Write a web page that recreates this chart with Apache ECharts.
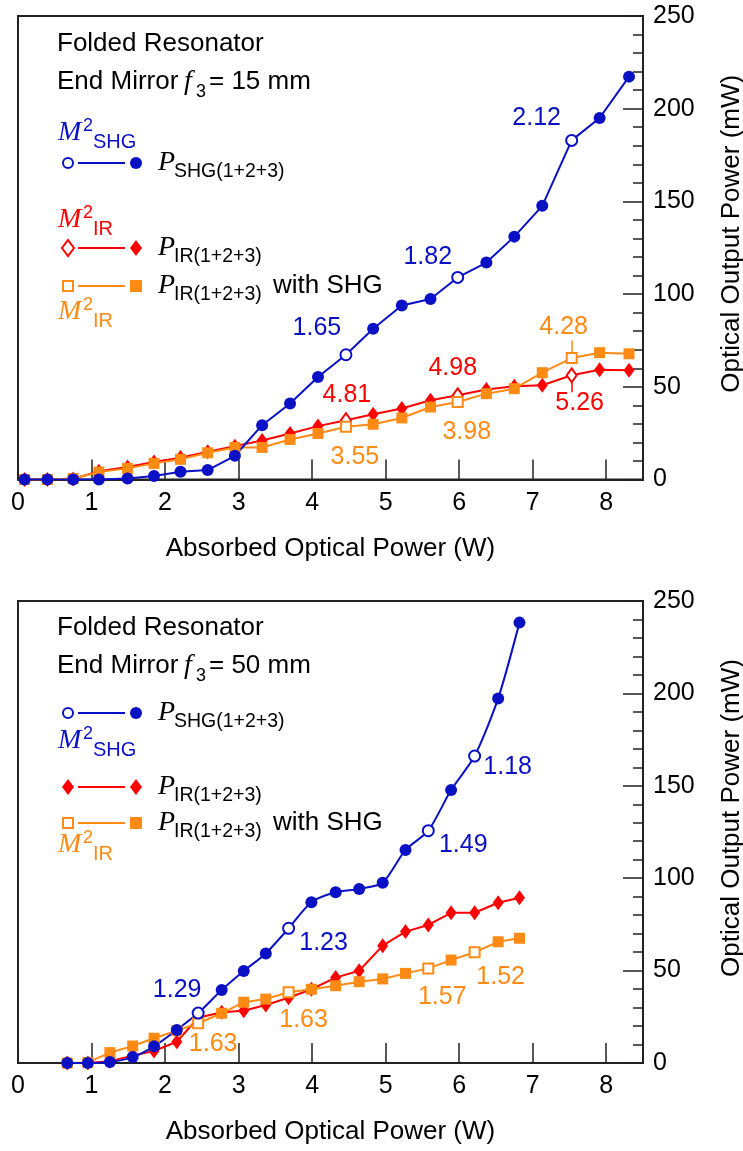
<!DOCTYPE html>
<html>
<head>
<meta charset="utf-8">
<script src="https://cdn.jsdelivr.net/npm/echarts@6/dist/echarts.min.js"></script>
<style>
html, body {margin: 0; padding: 0; background: #fff;}
#chart {width: 743px; height: 1151px;}
</style>
</head>
<body>
<div id="chart"></div>
<script>
// 上图: End Mirror f3 = 15 mm
var topPower = [0.09, 0.40, 0.75, 1.10, 1.49, 1.85, 2.21, 2.58, 2.95, 3.32, 3.70, 4.08, 4.46, 4.83, 5.22, 5.61, 5.98, 6.37, 6.75, 7.13, 7.53, 7.91, 8.31];
var topShg = [0, 0, 0, 0, 0.6, 1.9, 4.2, 5.1, 12.8, 29.3, 41, 55.3, 67.3, 81.3, 93.8, 97.4, 109, 117, 131, 147.6, 182.9, 195, 217.3];
var topIr = [0, 0, 0.3, 4.5, 6.8, 9.5, 11.8, 15, 18, 21, 24.8, 28.8, 32, 35.2, 38.3, 42.7, 45.4, 48.5, 50.3, 50.8, 56.2, 59.2, 58.9];
var topIrShg = [0, 0, 0.5, 4, 6, 8.7, 10.9, 14.4, 17.3, 17.3, 21.6, 24.8, 28.4, 29.8, 33.2, 39.1, 41.8, 46.3, 49, 57.6, 65.5, 68.4, 67.8];
var topOpen = [12, 16, 20]; // M² 测量点
var topM2Shg = ['1.65', '1.82', '2.12'];
var topM2Ir = ['4.81', '4.98', '5.26'];
var topM2IrShg = ['3.55', '3.98', '4.28'];
var topLeaderIr = [7.53, 52.5, 47];
var topLeaderIrShg = [7.53, 75, 68.5];

// 下图: End Mirror f3 = 50 mm
var botPower = [0.67, 0.95, 1.25, 1.56, 1.85, 2.16, 2.45, 2.77, 3.07, 3.37, 3.68, 3.99, 4.32, 4.64, 4.96, 5.27, 5.58, 5.89, 6.21, 6.53, 6.82];
var botShg = [0, 0, 0.5, 3.2, 9, 17.9, 27, 39.5, 49.8, 59.3, 72.9, 87, 92.4, 94.2, 97.6, 115.3, 125.7, 147.7, 166.1, 197.3, 238.3];
var botIr = [0, 0, 1, 4, 6.5, 11.5, 24.5, 27.5, 28.3, 31.4, 35.3, 39.9, 46.2, 49.9, 63.5, 71.1, 74.7, 81.3, 81.3, 86.7, 89.4];
var botIrShg = [0, 0.3, 5.6, 9.2, 13.4, 17.5, 21.5, 26.9, 32.9, 34.6, 38.3, 39.9, 41.8, 44, 45.5, 48.5, 51.2, 55.7, 59.9, 65.6, 67.5];
var botOpen = [6, 10, 16, 18];
var botM2Shg = ['1.29', '1.23', '1.49', '1.18'];
var botM2IrShg = ['1.63', '1.63', '1.57', '1.52'];

var xTicks = [0, 1, 2, 3, 4, 5, 6, 7, 8];

// 标注文字相对数据点的偏移(px)
var labelOffsets = {
    topShg: [[-29, -27], [-30, -20], [-35, -22]],
    topIr: [[1, -25], [-5, -27], [8, 28]],
    topIrShg: [[9, 30], [9, 30], [-8, -31]],
    botShg: [[-21, -23], [35, 15], [35, 14], [33, 11]],
    botIrShg: [[15, 21], [15, 28], [14, 29], [26, 25]]
};

var BLUE = '#0a10c4', RED = '#ff0000', ORANGE = '#ff8a14';
var SANS = '"Liberation Sans", Arial, Helvetica, sans-serif';
var SERIF = '"Liberation Serif", "Times New Roman", serif';

function buildData(xs, ys, openIdx, labels, offsets, color, size) {
    return xs.map(function (x, i) {
        var item = {value: [x, ys[i]]};
        var k = openIdx ? openIdx.indexOf(i) : -1;
        if (k >= 0) {
            item.itemStyle = {color: '#fff', borderColor: color, borderWidth: 2};
            item.symbolSize = size;
            if (labels) {
                item.label = {
                    show: true, position: 'inside', offset: offsets[k], formatter: labels[k],
                    color: color, fontSize: 25, fontFamily: SANS
                };
            }
        }
        return item;
    });
}

function makeSeries(idx, xs, ys, openIdx, labels, offsets, color, symbol, size, openSize, leader, smooth) {
    var s = {
        type: 'line', xAxisIndex: idx, yAxisIndex: idx,
        data: buildData(xs, ys, openIdx, labels, offsets, color, openSize),
        symbol: symbol, symbolSize: size, showAllSymbol: true, smooth: smooth || false,
        lineStyle: {color: color, width: 2},
        itemStyle: {color: color, borderWidth: 0},
        emphasis: {disabled: true}, silent: true, animation: false
    };
    if (leader) {
        s.markLine = {
            silent: true, symbol: 'none', animation: false,
            label: {show: false},
            lineStyle: {color: color, width: 1.5, type: 'solid'},
            data: [[{coord: [leader[0], leader[1]]}, {coord: [leader[0], leader[2]]}]]
        };
    }
    return s;
}

function gridOpt(top, height) {
    return {left: 18, top: top, width: 625, height: height, show: true, borderColor: '#222', borderWidth: 2,
        containLabel: false, outerBoundsMode: 'none'};
}

function xAxisOpt(idx) {
    return {
        type: 'value', gridIndex: idx, min: 0, max: 8.5, interval: 1,
        name: 'Absorbed Optical Power (W)', nameLocation: 'middle', nameGap: 56, nameMoveOverlap: false,
        nameTextStyle: {fontSize: 26, fontFamily: SANS, color: '#000'},
        axisLine: {onZero: false, lineStyle: {color: '#222', width: 2}},
        axisTick: {inside: true, length: 20, customValues: xTicks, lineStyle: {color: '#222', width: 1.5}},
        axisLabel: {customValues: xTicks, margin: 11, fontSize: 25, fontFamily: SANS, color: '#000'},
        splitLine: {show: false}
    };
}

function yAxisOpt(idx) {
    return {
        type: 'value', gridIndex: idx, position: 'right', min: 0, max: 250, interval: 50,
        name: 'Optical Output Power (mW)', nameLocation: 'middle', nameRotate: 90, nameGap: 76, nameMoveOverlap: false,
        nameTextStyle: {fontSize: 26, fontFamily: SANS, color: '#000', padding: [0, 0, 0, 28]},
        axisLine: {onZero: false, lineStyle: {color: '#222', width: 2}},
        axisTick: {inside: true, length: 20, lineStyle: {color: '#222', width: 1.5}},
        minorTick: {show: true, splitNumber: 5, length: 10, lineStyle: {color: '#222', width: 1.5}},
        axisLabel: {margin: 10, fontSize: 25, fontFamily: SANS, color: '#000'},
        splitLine: {show: false}
    };
}

// 图例和文字
function txt(x, y, t, size, color, serif) {
    var font = serif ? 'italic ' + size + 'px ' + SERIF : size + 'px ' + SANS;
    return {type: 'text', x: x, y: y, silent: true,
        style: {text: t, font: font, fill: color, align: 'left', verticalAlign: 'middle', textAlign: 'left', textVerticalAlign: 'middle'}};
}

function mark(shape, x, y, color, open) {
    var st = open ? {fill: '#fff', stroke: color, lineWidth: 2} : {fill: color};
    if (shape === 'circle') return {type: 'circle', silent: true, shape: {cx: x, cy: y, r: open ? 5 : 6}, style: st};
    if (shape === 'diamond') return {type: 'polygon', silent: true, shape: {points: [[x, y - 8], [x + 6, y], [x, y + 8], [x - 6, y]]}, style: st};
    var h = open ? 5 : 6;
    return {type: 'rect', silent: true, shape: {x: x - h, y: y - h, width: 2 * h, height: 2 * h}, style: st};
}

function legendRow(y, shape, color, openLeft, sub, extra) {
    var els = [
        mark(shape, 68, y, color, openLeft),
        {type: 'line', silent: true, shape: {x1: 78, y1: y, x2: 125, y2: y}, style: {stroke: color, lineWidth: 2}},
        mark(shape, 136, y, color, false),
        txt(158, y, 'P', 28, '#000', true),
        txt(174, y + 9, sub, 19.5, '#000')
    ];
    if (extra) els.push(txt(273, y, extra, 26, '#000'));
    return els;
}

function m2(y, sub, color) {
    return [txt(58, y, 'M', 28, color, true), txt(83, y - 7, '2', 18, color), txt(93, y + 9, sub, 20, color)];
}

function titles(y, f) {
    return [
        txt(57, y, 'Folded Resonator', 26, '#000'),
        txt(57, y + 38, 'End Mirror', 26, '#000'),
        txt(184, y + 38, 'f', 28, '#000', true),
        txt(196, y + 48, '3', 18, '#000'),
        txt(209, y + 38, '= ' + f + ' mm', 26, '#000')
    ];
}

var graphics = [].concat(
    titles(44, 15),
    m2(133, 'SHG', BLUE),
    legendRow(163, 'circle', BLUE, true, 'SHG(1+2+3)'),
    m2(220, 'IR', RED),
    legendRow(248, 'diamond', RED, true, 'IR(1+2+3)'),
    legendRow(286, 'rect', ORANGE, true, 'IR(1+2+3)', 'with SHG'),
    m2(312, 'IR', ORANGE),
    titles(628, 50),
    legendRow(713, 'circle', BLUE, true, 'SHG(1+2+3)'),
    m2(741, 'SHG', BLUE),
    legendRow(787, 'diamond', RED, false, 'IR(1+2+3)'),
    legendRow(823, 'rect', ORANGE, true, 'IR(1+2+3)', 'with SHG'),
    m2(845, 'IR', ORANGE)
);

var myChart = echarts.init(document.getElementById('chart'), null, {renderer: 'canvas'});
myChart.setOption({
    animation: false,
    backgroundColor: '#fff',
    grid: [gridOpt(16, 463.5), gridOpt(601, 462)],
    xAxis: [xAxisOpt(0), xAxisOpt(1)],
    yAxis: [yAxisOpt(0), yAxisOpt(1)],
    graphic: {elements: graphics},
    series: [
        makeSeries(0, topPower, topIr, topOpen, topM2Ir, labelOffsets.topIr, RED, 'diamond', [11, 15], [10, 14], topLeaderIr),
        makeSeries(0, topPower, topIrShg, topOpen, topM2IrShg, labelOffsets.topIrShg, ORANGE, 'rect', 11, 10, topLeaderIrShg),
        makeSeries(0, topPower, topShg, topOpen, topM2Shg, labelOffsets.topShg, BLUE, 'circle', 12, 11),
        makeSeries(1, botPower, botIr, null, null, null, RED, 'diamond', [11, 15], [10, 14]),
        makeSeries(1, botPower, botIrShg, botOpen, botM2IrShg, labelOffsets.botIrShg, ORANGE, 'rect', 11, 10),
        makeSeries(1, botPower, botShg, botOpen, botM2Shg, labelOffsets.botShg, BLUE, 'circle', 12, 11, null, 0.25)
    ]
});
</script>
</body>
</html>
